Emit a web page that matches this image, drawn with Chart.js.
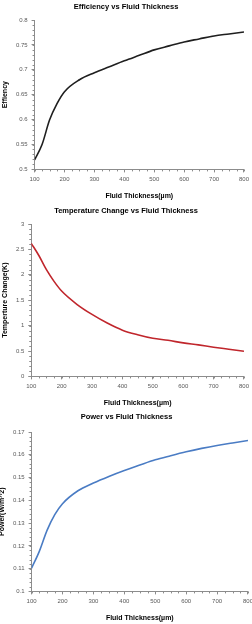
<!DOCTYPE html>
<html lang="en">

<head>
    <meta charset="UTF-8">
    <title>Fluid Thickness Charts</title>
    <script src="https://cdn.jsdelivr.net/npm/chart.js@4.4.1/dist/chart.umd.min.js"></script>
    <style>
        body {
            margin: 0;
            padding: 0;
            background-color: #fff;
            width: 252px;
            height: 624px;
            overflow: hidden;
            position: relative;
        }

        canvas {
            position: absolute;
        }

        #effChart { left: 0; top: 0; }
        #tempChart { left: 0; top: 204px; }
        #powerChart { left: -3px; top: 410px; }
    </style>
</head>

<body>
    <canvas id="effChart" width="252" height="202"></canvas>
    <canvas id="tempChart" width="252" height="205"></canvas>
    <canvas id="powerChart" width="259" height="214"></canvas>

    <script>
        // fluid thickness (µm)
        const thickness = [100, 125, 150, 175, 200, 250, 300, 350, 400, 450, 500, 550, 600, 650, 700, 750, 800];
        const efficiency = [0.519, 0.55, 0.599, 0.632, 0.656, 0.680, 0.694, 0.706, 0.718, 0.729, 0.740, 0.748, 0.756, 0.762, 0.768, 0.772, 0.776];
        const tempChange = [2.62, 2.38, 2.10, 1.87, 1.68, 1.42, 1.22, 1.05, 0.91, 0.82, 0.75, 0.71, 0.66, 0.62, 0.575, 0.535, 0.495];
        const power = [0.1102, 0.1176, 0.1268, 0.1337, 0.1385, 0.1442, 0.1476, 0.1505, 0.1531, 0.1555, 0.1578, 0.1596, 0.1613, 0.1628, 0.1641, 0.1652, 0.1663];

        const xTicks = { min: 100, max: 800, step: 100, minor: 25 };

        const FONT = "'Liberation Sans', Arial, sans-serif";
        const axisColor = '#8c8c8c';
        const labelColor = '#595959';

        // small ticks between the labelled ones
        const minorTicks = {
            id: 'minorTicks',
            afterDraw(chart, args, opts) {
                const ctx = chart.ctx;
                const xs = chart.scales.x, ys = chart.scales.y;
                ctx.save();
                ctx.strokeStyle = axisColor;
                ctx.lineWidth = 1;
                ctx.beginPath();
                for (let v = xs.min; v <= xs.max + 1e-9; v += opts.xStep) {
                    const px = Math.round(xs.getPixelForValue(v)) + 0.5;
                    ctx.moveTo(px, ys.bottom);
                    ctx.lineTo(px, ys.bottom + 2);
                }
                const n = Math.round((ys.max - ys.min) / opts.yStep);
                for (let i = 0; i <= n; i++) {
                    const py = Math.round(ys.getPixelForValue(ys.min + i * opts.yStep)) + 0.5;
                    ctx.moveTo(xs.left, py);
                    ctx.lineTo(xs.left - 2, py);
                }
                ctx.stroke();
                ctx.restore();
            }
        };

        function trimNum(v) {
            return String(Number(v.toFixed(4)));
        }

        function makeChart(id, title, yTitle, values, color, yMin, yMax, yStep, yMinor, titleGap) {
            const ctx = document.getElementById(id).getContext('2d');
            return new Chart(ctx, {
                type: 'line',
                data: {
                    datasets: [{
                        data: thickness.map((t, i) => ({ x: t, y: values[i] })),
                        borderColor: color,
                        borderWidth: 1.6,
                        pointRadius: 0,
                        fill: false,
                        cubicInterpolationMode: 'monotone'
                    }]
                },
                plugins: [minorTicks],
                options: {
                    responsive: false,
                    animation: false,
                    layout: { padding: { left: 0, right: 0, top: 0, bottom: 0 } },
                    plugins: {
                        legend: { display: false },
                        tooltip: { enabled: false },
                        title: {
                            display: true,
                            text: title,
                            color: '#000',
                            font: { family: FONT, size: 7.5, weight: 'bold' },
                            padding: { top: 2, bottom: titleGap }
                        },
                        minorTicks: { xStep: xTicks.minor, yStep: yMinor }
                    },
                    scales: {
                        x: {
                            type: 'linear',
                            min: xTicks.min,
                            max: xTicks.max,
                            border: { display: true, color: axisColor, width: 1 },
                            grid: { drawOnChartArea: false, drawTicks: true, tickLength: 3, color: axisColor },
                            ticks: {
                                stepSize: xTicks.step,
                                color: labelColor,
                                padding: 3,
                                maxRotation: 0,
                                font: { family: FONT, size: 6 }
                            },
                            title: {
                                display: true,
                                text: 'Fluid Thickness(µm)',
                                color: '#000',
                                font: { family: FONT, size: 7, weight: 'bold' },
                                padding: { top: 6, bottom: 2 }
                            }
                        },
                        y: {
                            min: yMin,
                            max: yMax,
                            border: { display: true, color: axisColor, width: 1 },
                            grid: { drawOnChartArea: false, drawTicks: true, tickLength: 3, color: axisColor },
                            ticks: {
                                stepSize: yStep,
                                color: labelColor,
                                padding: 4,
                                font: { family: FONT, size: 6 },
                                callback: v => trimNum(v)
                            },
                            title: {
                                display: true,
                                text: yTitle,
                                color: '#000',
                                font: { family: FONT, size: 7, weight: 'bold' },
                                padding: { top: 1, bottom: 2.5 }
                            }
                        }
                    }
                }
            });
        }

        makeChart('effChart', 'Efficiency vs Fluid Thickness', 'Effiency', efficiency, '#1f1f1f', 0.5, 0.8, 0.05, 0.01, 9);
        makeChart('tempChart', 'Temperature Change vs Fluid Thickness', 'Temperture Change(K)', tempChange, '#c0262c', 0, 3, 0.5, 0.1, 9);
        makeChart('powerChart', 'Power vs Fluid Thickness', 'Power(W/m^2)', power, '#4a7cc4', 0.1, 0.17, 0.01, 0.002, 11);
    </script>
</body>

</html>
